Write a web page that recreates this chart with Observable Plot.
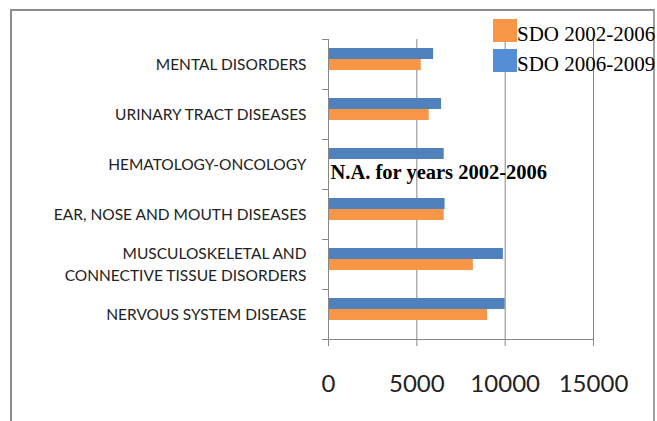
<!DOCTYPE html>
<html>
<head>
<meta charset="utf-8">
<script src="https://cdn.jsdelivr.net/npm/d3@7"></script>
<script src="https://cdn.jsdelivr.net/npm/@observablehq/plot@0.6"></script>
<style>
  html, body { margin: 0; padding: 0; background: #fff; }
  #wrap { position: relative; width: 657px; height: 421px; overflow: hidden; background: #fff; }
  #frame { position: absolute; left: 10px; top: 9px; width: 641px; height: 430px;
           border-left: 2px solid #8c8c8c; border-top: 2px solid #8c8c8c; border-right: 2px solid #a0a0a0; }
  #chart { position: absolute; left: 0; top: 0; }
  .cat-labels text { letter-spacing: 1px; word-spacing: -2px; }
  .leg-sq { position: absolute; width: 24px; height: 23px; }
  .leg-tx { position: absolute; font-family: "Liberation Serif", "Times New Roman", serif; font-size: 21px;
            line-height: 23px; color: #000; white-space: nowrap; }
</style>
</head>
<body>
<div id="wrap">
  <div id="frame"></div>
  <div id="chart"></div>
  <div id="legend"></div>
</div>
<script>
const categories = [
  "MENTAL DISORDERS",
  "URINARY TRACT DISEASES",
  "HEMATOLOGY-ONCOLOGY",
  "EAR, NOSE AND MOUTH DISEASES",
  "MUSCULOSKELETAL AND CONNECTIVE TISSUE DISORDERS",
  "NERVOUS SYSTEM DISEASE"
];
const tickLabels = [
  "MENTAL DISORDERS",
  "URINARY TRACT DISEASES",
  "HEMATOLOGY-ONCOLOGY",
  "EAR, NOSE AND MOUTH DISEASES",
  "MUSCULOSKELETAL AND\nCONNECTIVE TISSUE DISORDERS",
  "NERVOUS SYSTEM DISEASE"
];
const sdo2002_2006 = [5250, 5700, null, 6550, 8200, 9000];
const sdo2006_2009 = [5950, 6400, 6550, 6600, 9900, 10000];
const xTicks = [0, 5000, 10000, 15000];
const seriesNames = ["SDO 2002-2006", "SDO 2006-2009"];
const barColors = ["#F79646", "#4F81BD"];
const legendColors = ["#F79646", "#558ED5"];
const noteCategory = "HEMATOLOGY-ONCOLOGY";
const noteText = "N.A. for years 2002-2006";

const rows = categories.map((c, i) => ({
  category: c, label: tickLabels[i], v02: sdo2002_2006[i], v06: sdo2006_2009[i]
}));
const gray = "#868686";
const sans = "Lato, 'Liberation Sans', sans-serif";

const chart = Plot.plot({
  width: 657, height: 421,
  marginLeft: 328, marginRight: 64, marginTop: 39, marginBottom: 82,
  x: {domain: [0, 15000], axis: null, label: null},
  y: {domain: categories, axis: null, padding: 0, label: null},
  style: {background: "transparent", fontFamily: sans, color: "#222"},
  marks: [
    Plot.gridX({ticks: xTicks.slice(1), stroke: gray, strokeOpacity: 1}),
    Plot.barX(rows.filter(d => d.v02 != null), {x: "v02", y: "category", fill: barColors[0], insetTop: 20, insetBottom: 19}),
    Plot.barX(rows, {x: "v06", y: "category", fill: barColors[1], insetTop: 9, insetBottom: 30}),
    Plot.ruleX([0], {stroke: gray}),
    Plot.ruleY([categories[categories.length - 1]], {dy: 25, stroke: gray}),
    Plot.axisY({ticks: categories, tickSize: 6, tickFormat: () => "", dy: -25, stroke: gray, label: null}),
    Plot.axisY({ticks: [categories[categories.length - 1]], tickSize: 6, tickFormat: () => "", dy: 25, stroke: gray, label: null}),
    Plot.axisX({ticks: xTicks, tickSize: 7, tickPadding: 28, fontSize: 24, stroke: gray, fill: "#222",
      tickFormat: d => String(d), fontFamily: sans, label: null}),
    Plot.text(rows, {frameAnchor: "left", y: "category", text: "label", textAnchor: "end", dx: -22, dy: -1.5,
      fontSize: 15.5, fill: "#222", lineHeight: 1.45, ariaLabel: "cat-labels"}),
    Plot.text([{category: noteCategory, text: noteText}], {x: () => 0, y: "category", text: "text", textAnchor: "start",
      dx: 2, dy: 7.5, fontWeight: "bold", fontSize: 20.5, fontFamily: "'Liberation Serif', 'Times New Roman', serif", fill: "#000"})
  ]
});
document.getElementById("chart").appendChild(chart);

// category labels: center the lines of wrapped labels within their block
const labelGroup = chart.querySelector('g[aria-label="cat-labels"]');
if (labelGroup) {
  labelGroup.classList.add("cat-labels");
  labelGroup.querySelectorAll("text").forEach(t => {
    const spans = t.querySelectorAll("tspan");
    if (spans.length > 1) {
      const maxW = Math.max(...Array.from(spans, s => s.getComputedTextLength()));
      t.setAttribute("text-anchor", "middle");
      spans.forEach(s => s.setAttribute("x", -maxW / 2));
    }
  });
}

// legend
const legend = document.getElementById("legend");
seriesNames.forEach((name, i) => {
  const top = 19 + i * 29.5;
  const sq = document.createElement("div");
  sq.className = "leg-sq";
  sq.style.left = "493px"; sq.style.top = top + "px"; sq.style.background = legendColors[i];
  const tx = document.createElement("div");
  tx.className = "leg-tx";
  tx.style.left = "517px"; tx.style.top = (top + 4) + "px";
  tx.textContent = name;
  legend.appendChild(sq); legend.appendChild(tx);
});
</script>
</body>
</html>
